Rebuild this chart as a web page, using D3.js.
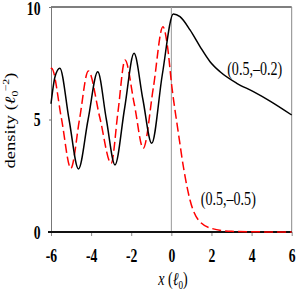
<!DOCTYPE html>
<html>
<head>
<meta charset="utf-8">
<script src="https://cdn.jsdelivr.net/npm/d3@7"></script>
<style>
  body { margin: 0; background: #fff; }
  svg { display: block; font-family: "Liberation Serif", "DejaVu Serif", serif; }
  text { font-family: "Liberation Serif", "DejaVu Serif", serif; fill: #000; }
  .tick text { font-size: 18px; font-weight: bold; }
</style>
</head>
<body>
<svg id="chart" width="300" height="298"></svg>
<script>
// x positions / densities
var blackX = [-6, -5.8, -5.56, -5.1, -4.63, -4.15, -3.67, -3.24, -2.81, -2.33, -1.86, -1.42, -0.98, -0.45, 0.1, 0.43, 0.93, 1.43, 1.93, 2.43, 3.26, 4.09, 4.92, 6]
var blackY = [5.7, 6.9, 7.28, 5.0, 2.8, 5.0, 7.12, 5.0, 2.98, 5.5, 7.94, 5.9, 3.94, 7.0, 9.69, 9.57, 8.98, 8.24, 7.57, 7.12, 6.61, 6.24, 5.82, 5.2]
var redX = [-6, -5.97, -5.48, -5.01, -4.58, -4.14, -3.57, -3.0, -2.66, -2.31, -1.85, -1.4, -0.9, -0.42, -0.2, 0.02, 0.35, 0.6, 0.93, 1.35, 2.0, 3.0, 4.0, 6.0]
var redY = [7.25, 7.28, 5.05, 2.83, 5.0, 7.16, 5.1, 3.05, 5.35, 7.64, 5.7, 3.72, 6.4, 9.12, 8.3, 6.5, 4.4, 2.9, 1.42, 0.53, 0.16, 0.03, 0.01, 0]
var xTicks = [-6, -4, -2, 0, 2, 4, 6]
var yTicks = [0, 5, 10]
var labelA = '(0.5,\u20130.2)'
var labelB = '(0.5,\u20130.5)'

// the figure's text is squeezed sideways
var sx = 0.76

var svg = d3.select('#chart')
var m = {left: 51, right: 8.3, top: 7, bottom: 66}
var w = 300 - m.left - m.right
var h = 298 - m.top - m.bottom

var x = d3.scaleLinear().domain([-6, 6]).range([0, w])
var y = d3.scaleLinear().domain([0, 10]).range([h, 0])

var g = svg.append('g').attr('transform', `translate(${m.left},${m.top})`)

// frame
g.append('line').attr('x1', 0).attr('x2', w).attr('y1', 0).attr('y2', 0)
  .attr('stroke', '#555').attr('stroke-width', 1.3)
g.append('line').attr('x1', w).attr('x2', w).attr('y1', 0).attr('y2', h)
  .attr('stroke', '#888').attr('stroke-width', 1)
g.append('line').attr('x1', x(0)).attr('x2', x(0)).attr('y1', 0).attr('y2', h)
  .attr('stroke', '#999').attr('stroke-width', 1)

var yAxis = g.append('g')
  .call(d3.axisLeft(y).tickValues(yTicks).tickSize(2).tickPadding(8))
  .attr('font-family', null).attr('font-size', null)
yAxis.select('.domain').attr('stroke', '#777')
yAxis.selectAll('.tick line').attr('stroke', '#777')
yAxis.selectAll('.tick text')
  .attr('x', -10.5 / sx)
  .attr('y', d => d === 10 ? 1.5 : 0.5)
  .attr('transform', `scale(${sx},1)`)

var xAxis = g.append('g').attr('transform', `translate(0,${h})`)
  .call(d3.axisBottom(x).tickValues(xTicks).tickSize(4).tickPadding(13).tickFormat(d3.format('d')))
  .attr('font-family', null).attr('font-size', null)
xAxis.select('.domain').remove()
xAxis.selectAll('.tick line').attr('stroke', '#888')
xAxis.selectAll('.tick text')
  .text(d => d < 0 ? '-' + Math.abs(d) : d)
  .attr('transform', `scale(${sx},1)`)
g.append('line').attr('x1', -3).attr('x2', w).attr('y1', h).attr('y2', h)
  .attr('stroke', '#111').attr('stroke-width', 2)

var line = d3.line().curve(d3.curveMonotoneX)
  .x(d => x(d[0])).y(d => y(d[1]))

g.append('path').datum(d3.zip(redX, redY))
  .attr('d', line).attr('fill', 'none')
  .attr('stroke', '#f00').attr('stroke-width', 1.5)
  .attr('stroke-dasharray', '9,4')

g.append('path').datum(d3.zip(blackX, blackY))
  .attr('d', line).attr('fill', 'none')
  .attr('stroke', '#000').attr('stroke-width', 1.5)

function squeezed (px, py) {
  return svg.append('text')
    .attr('transform', `translate(${px},${py}) scale(${sx},1)`)
    .attr('text-anchor', 'middle').attr('font-size', 18.5)
}
squeezed(254.7, 74.7).text(labelA)
squeezed(228.3, 205).text(labelB)

// axis titles
var xt = squeezed(173, 285)
xt.append('tspan').attr('font-style', 'italic').text('x')
xt.append('tspan').text(' (')
xt.append('tspan').attr('font-style', 'italic').text('\u2113')
xt.append('tspan').attr('font-size', 12).attr('dy', 4).text('0')
xt.append('tspan').attr('dy', -4).text(')')

var yt = svg.append('text')
  .attr('transform', `translate(15,${m.top + y(5) + 1}) scale(${sx},1) rotate(-90)`)
  .attr('text-anchor', 'middle').attr('font-size', 18.5)
yt.append('tspan').text('density (')
yt.append('tspan').attr('font-style', 'italic').text('\u2113')
yt.append('tspan').attr('font-size', 12).attr('dy', 4).text('0')
yt.append('tspan').attr('font-size', 12).attr('dy', -12).attr('dx', -1).text('\u22122')
yt.append('tspan').attr('dy', 8).text(')')
</script>
</body>
</html>
